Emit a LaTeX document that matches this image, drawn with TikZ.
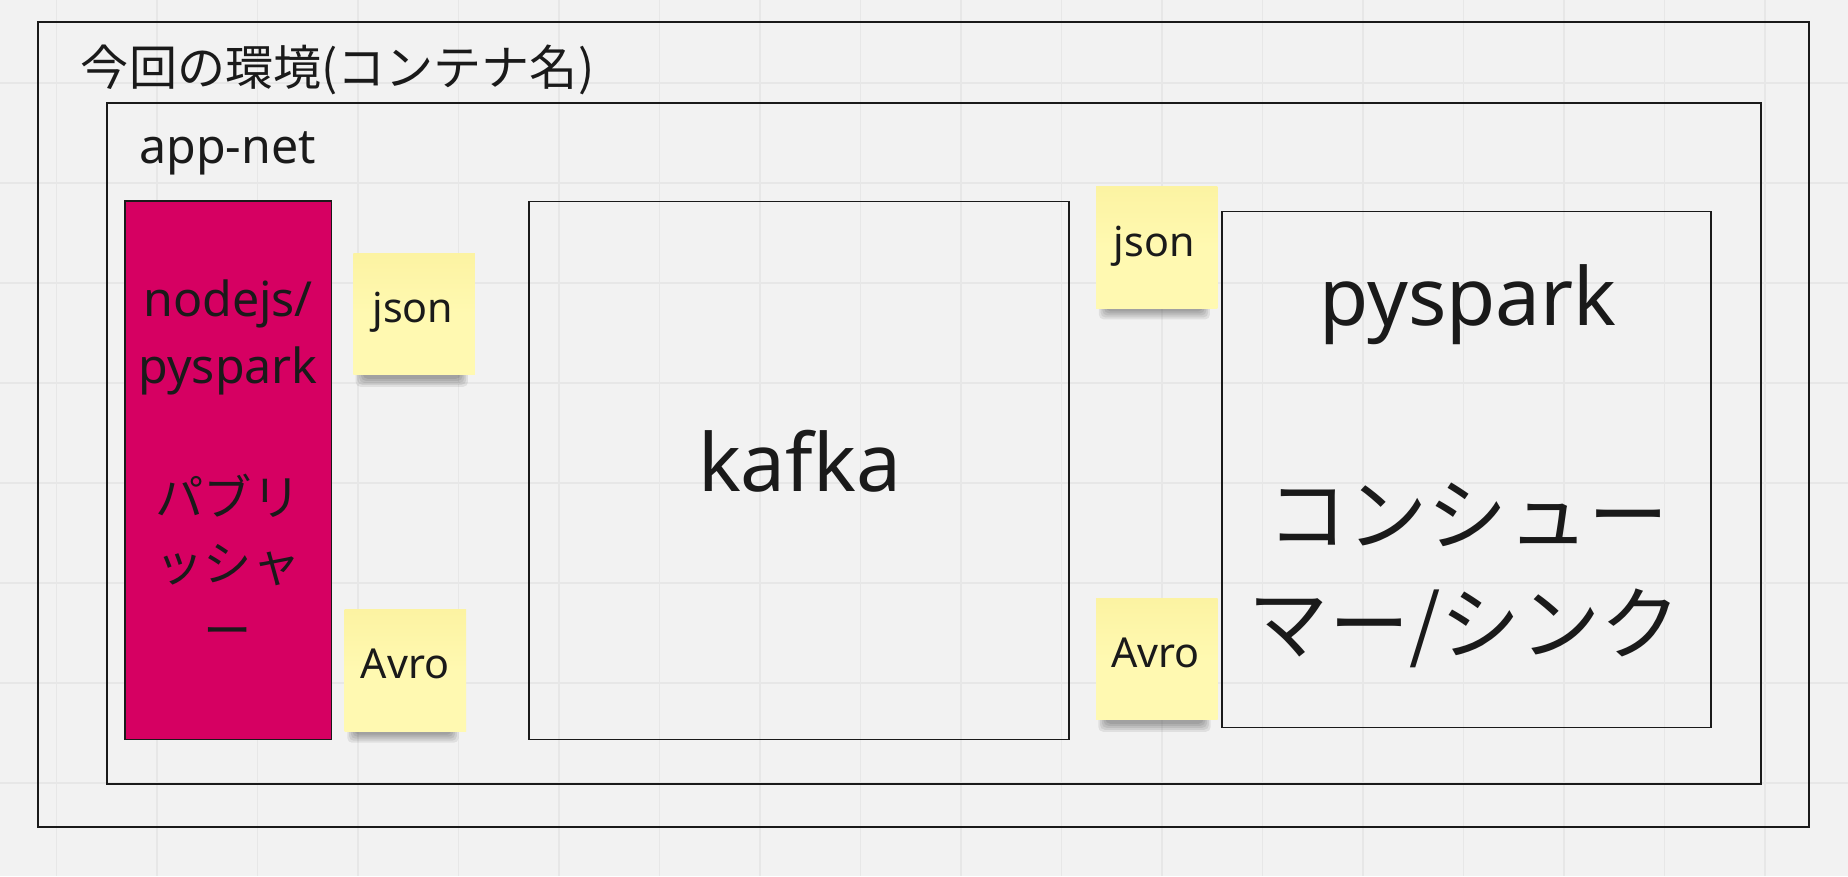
\documentclass[tikz,border=0pt]{standalone}
\usepackage{fontspec}
\setmainfont{Noto Sans}
\newfontfamily\cjk{Noto Sans CJK JP}
\definecolor{bgc}{HTML}{F2F2F2}
\definecolor{gridc}{HTML}{E7E7E7}
\definecolor{ink}{HTML}{1A1A1A}
\definecolor{magc}{HTML}{D60062}
\definecolor{stickyc}{HTML}{FFF9B1}
\definecolor{stickytop}{HTML}{FCF3A2}
\tikzset{
  gridline/.style={draw=gridc, line width=1.1pt},
  frame/.style={draw=ink, line width=1.6pt, rectangle, inner sep=0pt},
  boxc/.style={draw=ink, line width=1.3pt, rectangle, inner sep=0pt},
  sticky/.style={rectangle, inner sep=0pt, minimum width=103pt, minimum height=103pt,
    top color=stickytop, bottom color=stickyc, middle color=stickyc, shading angle=0},
  txt/.style={inner sep=0pt, anchor=base, text=ink},
  stxt/.style={txt, font=\fontsize{35}{40}\selectfont},
  mtxt/.style={txt, font=\fontsize{41}{50}\selectfont},
  btxt/.style={txt, font=\fontsize{68}{80}\selectfont},
}
\newcommand{\stickyshadow}[3]{% left, right, bottom
  \foreach \k in {0,...,4}{
    \fill[black, opacity=0.075, rounded corners=4pt]
      ({#1+2+1.5*\k},{#3-10}) rectangle ({#2-6-1.5*\k},{#3+10-1.7*\k});
  }
}
\begin{document}
\begin{tikzpicture}[x=1pt,y=-1pt]
\useasboundingbox (0,0) rectangle (1568,743.3);
\fill[bgc] (0,0) rectangle (1568,743.3);
% grid
\foreach \k in {-1,...,17}{
  \draw[gridline] ({133.2+85.27*\k},0) -- ({133.2+85.27*\k},743.3);
}
\foreach \k in {-4,...,3}{
  \draw[gridline] (0,{409.8+84.85*\k}) -- (1568,{409.8+84.85*\k});
}
% frames
\node[frame, minimum width=1502.5pt, minimum height=683.3pt] (env) at (783.75,360.35) {};
\node[txt, anchor=base west, font=\fontsize{40.8}{50}\selectfont\cjk] (envlabel) at (68.5,72.3) {今回の環境(コンテナ名)};
\node[frame, minimum width=1403.4pt, minimum height=578.1pt] (net) at (792.3,376.45) {};
\node[txt, anchor=base west, font=\fontsize{41}{50}\selectfont] (netlabel) at (118,138.6) {app-net};
% publisher
\node[boxc, fill=magc, minimum width=175.2pt, minimum height=456.8pt] (pub) at (193.5,398.9) {};
\node[mtxt] (pub1) at (193.5,268.7) {nodejs/};
\node[mtxt] (pub2) at (193.5,325.2) {pyspark};
\node[mtxt, font=\fontsize{41}{50}\selectfont\cjk] (pub3) at (193.5,437) {パブリ};
\node[mtxt, font=\fontsize{41}{50}\selectfont\cjk] (pub4) at (193.5,493.5) {ッシャ};
\node[mtxt, font=\fontsize{41}{50}\selectfont\cjk] (pub5) at (193.5,550) {ー};
% kafka
\node[boxc, minimum width=458.2pt, minimum height=456.5pt] (kafka) at (677.9,399.05) {};
\node[btxt] (kafkalabel) at (678.4,417.2) {kafka};
% consumer
\node[boxc, minimum width=414.8pt, minimum height=438pt] (cons) at (1244.2,398.3) {};
\node[btxt] (cons1) at (1245.5,276.6) {pyspark};
\node[btxt, font=\fontsize{68}{80}\selectfont\cjk] (cons2) at (1245.5,462) {コンシュー};
\node[btxt, font=\fontsize{68}{80}\selectfont\cjk] (cons3) at (1243,554.6) {マー/シンク};
% sticky shadows
\stickyshadow{299.8}{403}{318.2}
\stickyshadow{292.7}{395.1}{620.2}
\stickyshadow{930.4}{1032.6}{261}
\stickyshadow{929.9}{1033.2}{610.9}
% stickies
\node[sticky] (json1) at (351.4,266.3) {};
\node[stxt] (json1t) at (350.4,273.5) {json};
\node[sticky] (avro1) at (343.9,568.9) {};
\node[stxt] (avro1t) at (343.6,575.5) {Avro};
\node[sticky] (json2) at (981.5,209.95) {};
\node[stxt] (json2t) at (979.4,217.4) {json};
\node[sticky] (avro2) at (981.55,559.3) {};
\node[stxt] (avro2t) at (980.3,566.2) {Avro};
\end{tikzpicture}
\end{document}
